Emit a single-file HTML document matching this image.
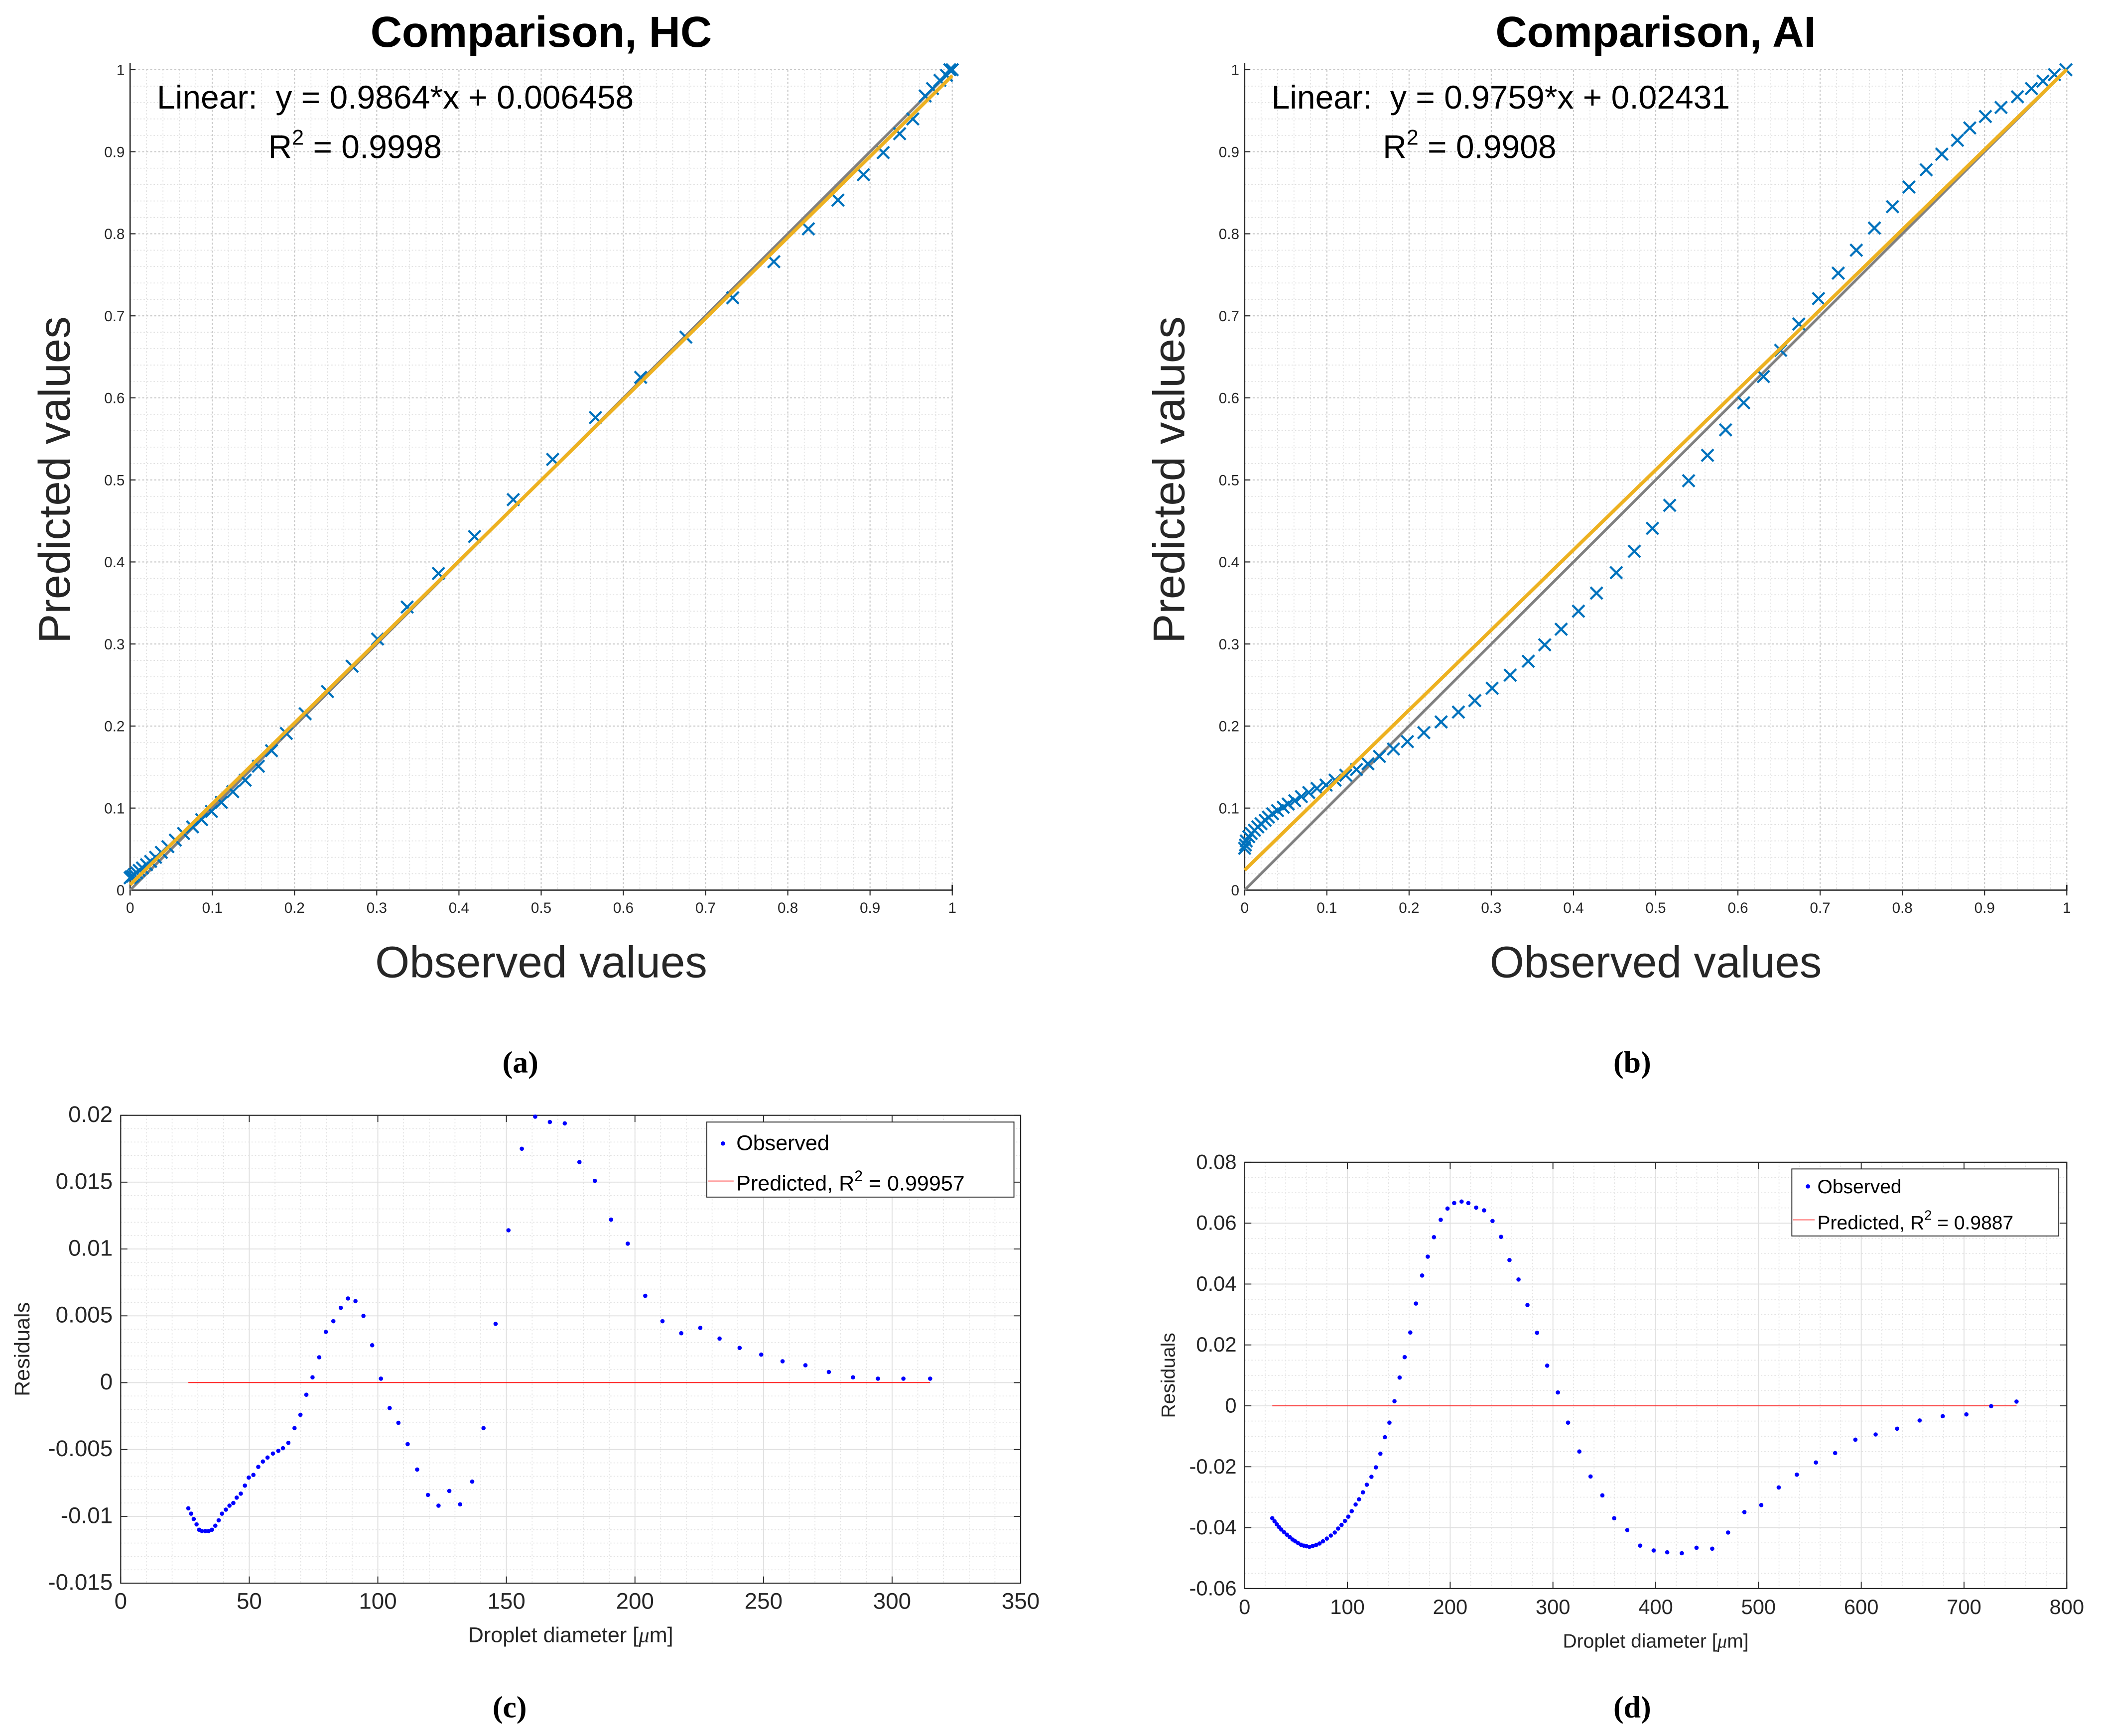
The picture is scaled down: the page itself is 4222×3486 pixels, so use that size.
<!DOCTYPE html>
<html><head><meta charset="utf-8">
<style>
html,body{margin:0;padding:0;background:#fff;}
svg{display:block;font-family:"Liberation Sans",sans-serif;}
</style></head>
<body>
<svg id="fig" width="4222" height="3486" viewBox="0 0 1568 1295" preserveAspectRatio="none" xmlns="http://www.w3.org/2000/svg">
<rect x="0" y="0" width="1568" height="1295" fill="#fff"/>
</svg>
<script>
// ---------- Data ----------
const hcX=[0,0.001,0.003,0.005,0.008,0.011,0.015,0.020,0.025,0.031,0.038,0.046,0.055,0.065,0.076,0.087,0.099,0.111,0.125,0.140,0.156,0.172,0.190,0.213,0.240,0.270,0.301,0.337,0.375,0.419,0.466,0.514,0.566,0.621,0.676,0.733,0.783,0.825,0.861,0.892,0.916,0.936,0.952,0.967,0.976,0.985,0.993,0.997,1.0];
const hcY=[0.015,0.016,0.017,0.019,0.021,0.024,0.027,0.031,0.035,0.040,0.046,0.053,0.061,0.069,0.077,0.086,0.096,0.107,0.120,0.134,0.151,0.170,0.191,0.215,0.242,0.273,0.306,0.345,0.386,0.431,0.476,0.525,0.576,0.625,0.674,0.722,0.766,0.806,0.841,0.872,0.899,0.922,0.940,0.968,0.977,0.987,0.993,1.0,1.0];
const hcFit=[0.9864,0.006458];
const aiX=[0.999,0.985,0.971,0.957,0.940,0.920,0.901,0.882,0.867,0.848,0.829,0.808,0.788,0.766,0.744,0.722,0.698,0.674,0.652,0.631,0.607,0.585,0.563,0.540,0.517,0.496,0.474,0.452,0.428,0.406,0.385,0.365,0.345,0.323,0.301,0.280,0.260,0.239,0.218,0.198,0.181,0.164,0.150,0.136,0.123,0.110,0.099,0.088,0.078,0.069,0.061,0.053,0.047,0.040,0.034,0.029,0.025,0.020,0.016,0.012,0.008,0.005,0.002,0.001,0];
const aiY=[1.0,0.994,0.986,0.977,0.967,0.954,0.943,0.929,0.914,0.897,0.878,0.857,0.833,0.807,0.780,0.752,0.721,0.690,0.658,0.626,0.594,0.561,0.530,0.499,0.469,0.441,0.413,0.387,0.362,0.340,0.318,0.299,0.279,0.262,0.246,0.231,0.217,0.205,0.192,0.181,0.172,0.163,0.154,0.147,0.140,0.134,0.128,0.124,0.119,0.114,0.109,0.105,0.101,0.097,0.093,0.089,0.085,0.081,0.077,0.073,0.069,0.065,0.060,0.055,0.051];
const aiFit=[0.9759,0.02431];
const cD=[26.3,27.4,28.4,29.5,30.5,31.6,32.9,34.2,35.5,36.8,38.1,39.4,40.9,42.3,43.8,45.1,46.7,48.3,49.8,51.6,53.5,55.3,57.1,59.2,61.3,63.1,65.2,67.6,69.9,72.2,74.6,77.2,79.8,82.7,85.6,88.4,91.3,94.4,97.8,101.2,104.6,108.0,111.6,115.3,119.5,123.6,127.8,132.0,136.7,141.1,145.8,150.8,156.0,161.2,166.9,172.7,178.4,184.4,190.7,197.2,204.0,210.7,218.0,225.4,232.9,240.7,249.1,257.4,266.3,275.4,284.8,294.5,304.4,314.8];
const cR=[-0.0094,-0.0098,-0.0102,-0.0106,-0.0110,-0.0111,-0.0111,-0.0111,-0.0110,-0.0107,-0.0103,-0.0098,-0.0095,-0.0092,-0.0090,-0.0086,-0.0083,-0.0077,-0.0071,-0.0069,-0.0063,-0.0059,-0.0056,-0.0053,-0.0051,-0.0049,-0.0045,-0.0034,-0.0024,-0.0009,0.0004,0.0019,0.0038,0.0046,0.0056,0.0063,0.0061,0.0050,0.0028,0.0003,-0.0019,-0.0030,-0.0046,-0.0065,-0.0084,-0.0092,-0.0081,-0.0091,-0.0074,-0.0034,0.0044,0.0114,0.0175,0.0199,0.0195,0.0194,0.0165,0.0151,0.0122,0.0104,0.0065,0.0046,0.0037,0.0041,0.0033,0.0026,0.0021,0.0016,0.0013,0.0008,0.0004,0.0003,0.0003,0.0003];
const dD=[26.9,29.1,31.3,33.4,35.6,38.4,41.1,43.9,46.6,49.3,52.1,54.8,57.6,60.3,63.0,66.3,69.6,72.9,76.2,80.0,83.9,87.7,91.0,94.3,97.6,100.9,104.2,108.0,111.3,115.1,118.9,123.4,127.7,132.1,136.5,140.9,145.8,150.8,155.7,161.2,166.7,172.7,178.2,184.2,190.8,197.4,203.9,211.1,217.7,225.3,233.0,241.2,249.5,257.7,266.5,275.2,284.5,294.4,304.8,314.7,325.7,336.6,348.1,359.6,372.3,384.9,398.0,411.2,425.4,439.7,455.0,470.4,486.3,502.7,519.7,537.3,555.9,574.6,594.3,614.0,634.9,656.8,679.3,702.3,726.4,751.1];
const dR=[-0.0369,-0.0379,-0.0389,-0.0398,-0.0406,-0.0415,-0.0423,-0.0431,-0.0439,-0.0445,-0.0451,-0.0456,-0.0459,-0.0461,-0.0463,-0.0460,-0.0457,-0.0452,-0.0445,-0.0436,-0.0426,-0.0416,-0.0403,-0.0391,-0.0378,-0.0364,-0.0346,-0.0324,-0.0307,-0.0284,-0.0259,-0.0233,-0.0202,-0.0157,-0.0103,-0.0055,0.0015,0.0093,0.0160,0.0241,0.0336,0.0428,0.0490,0.0554,0.0611,0.0648,0.0666,0.0671,0.0666,0.0651,0.0642,0.0607,0.0555,0.0479,0.0415,0.0331,0.0240,0.0132,0.0044,-0.0055,-0.0150,-0.0232,-0.0294,-0.0369,-0.0408,-0.0459,-0.0475,-0.0481,-0.0484,-0.0466,-0.0469,-0.0416,-0.0349,-0.0326,-0.0268,-0.0226,-0.0186,-0.0155,-0.0111,-0.0094,-0.0075,-0.0048,-0.0034,-0.0028,-0.0001,0.0014];
const abTicks=["0","0.1","0.2","0.3","0.4","0.5","0.6","0.7","0.8","0.9","1"];
const cXTicks=["0","50","100","150","200","250","300","350"];
const cYTicks=["-0.015","-0.01","-0.005","0","0.005","0.01","0.015","0.02"];
const dXTicks=["0","100","200","300","400","500","600","700","800"];
const dYTicks=["-0.06","-0.04","-0.02","0","0.02","0.04","0.06","0.08"];

// ---------- helpers ----------
const NS="http://www.w3.org/2000/svg";
const fig=document.getElementById('fig');
function mk(tag,attrs,parent,text){const e=document.createElementNS(NS,tag);for(const k in attrs)e.setAttribute(k,attrs[k]);if(text!==undefined)e.textContent=text;(parent||fig).appendChild(e);return e;}
function scale(d0,d1,r0,r1){return v=>r0+(v-d0)/(d1-d0)*(r1-r0);}

// ---------- scatter comparison panels ----------
function comparison(cfg){
  const g=mk('g',{});
  
  
  const L=cfg.L,R=cfg.R,T=52,B=664;
  const sx=scale(0,1,L,R), sy=scale(0,1,B,T);
  for(let i=0;i<=50;i++){const v=i/50;
    const gx=mk('line',{x1:sx(v),x2:sx(v),y1:T,y2:B,stroke:i%5===0?'#c8c8c8':'#dedede','stroke-width':i%5===0?0.8:0.6,'stroke-dasharray':i%5===0?'1.5,1.5':'1,1.5'},g);
    
    const gy=mk('line',{x1:L,x2:R,y1:sy(v),y2:sy(v),stroke:i%5===0?'#c8c8c8':'#dedede','stroke-width':i%5===0?0.8:0.6,'stroke-dasharray':i%5===0?'1.5,1.5':'1,1.5'},g);
    
  }
  const ax=mk('path',{d:`M${L},${T-5} L${L},${B} L${R},${B} L${R},${B-4} M${L},${B} L${L},${B+4}`,stroke:'#262626','stroke-width':1,fill:'none'},g);
  
  abTicks.forEach((t,i)=>{const v=i/10;
    mk('line',{x1:sx(v),x2:sx(v),y1:B,y2:B+4,stroke:'#262626','stroke-width':0.8},g);
    mk('line',{x1:L,x2:L+4,y1:sy(v),y2:sy(v),stroke:'#262626','stroke-width':0.8},g);
    const xt=mk('text',{x:sx(v),y:B+17,'font-size':11,'text-anchor':'middle',fill:'#262626'},g,t);
    
    const yt=mk('text',{x:L-4,y:sy(v)+4,'font-size':11,'text-anchor':'end',fill:'#262626'},g,t);
    
  });
  const ref=mk('line',{x1:sx(0),y1:sy(0),x2:sx(1),y2:sy(1),stroke:'#808080','stroke-width':2},g);
  
  cfg.xs.forEach((x,i)=>{const px=sx(x),py=sy(cfg.ys[i]),s=4.5;
    const m=mk('path',{d:`M${px-s},${py-s}L${px+s},${py+s}M${px-s},${py+s}L${px+s},${py-s}`,stroke:'#0072BD','stroke-width':1.6,fill:'none'},g);
    
  });
  const f=mk('line',{x1:sx(0),y1:sy(cfg.fit[1]),x2:sx(1),y2:sy(cfg.fit[0]+cfg.fit[1]),stroke:'#EDB120','stroke-width':2.6},g);
  
  const ti=mk('text',{x:(L+R)/2,y:35,'font-size':32.5,'font-weight':'bold','text-anchor':'middle',fill:'#000'},g,cfg.title);
  
  const eq=mk('text',{x:L+20,y:81,'font-size':24.5,fill:'#000'},g,cfg.eq);
  
  const r2=mk('text',{x:L+103,y:118,'font-size':24.5,fill:'#000'},g);
  
  mk('tspan',{},r2,'R');mk('tspan',{dy:-10,'font-size':16},r2,'2');mk('tspan',{dy:10},r2,' = '+cfg.r2);
  const yl=mk('text',{x:0,y:0,'font-size':33,'text-anchor':'middle',fill:'#262626',transform:`translate(${L-45},358) rotate(-90)`},g,'Predicted values');
  
  const xl=mk('text',{x:(L+R)/2,y:729,'font-size':33,'text-anchor':'middle',fill:'#262626'},g,'Observed values');
  
}
comparison({name:'panel-a-hc',L:97,R:710,xs:hcX,ys:hcY,fit:hcFit,title:'Comparison, HC',eq:'Linear:\u00a0 y = 0.9864*x + 0.006458',r2:'0.9998'});
comparison({name:'panel-b-ai',L:928,R:1541,xs:aiX,ys:aiY,fit:aiFit,title:'Comparison, AI',eq:'Linear:\u00a0 y = 0.9759*x + 0.02431',r2:'0.9908'});

// ---------- residual panels ----------
function residual(cfg){
  const g=mk('g',{});
  
  
  const {L,R,T,B}=cfg;
  const sx=scale(cfg.x0,cfg.x1,L,R), sy=scale(cfg.y0,cfg.y1,B,T);
  for(let v=cfg.x0;v<=cfg.x1+1e-9;v+=cfg.xMinor){
    const l=mk('line',{x1:sx(v),x2:sx(v),y1:T,y2:B,stroke:'#e2e2e2','stroke-width':0.6,'stroke-dasharray':'1,1.5'},g);
    }
  for(let v=cfg.y0;v<=cfg.y1+1e-9;v+=cfg.yMinor){
    const l=mk('line',{x1:L,x2:R,y1:sy(v),y2:sy(v),stroke:'#e2e2e2','stroke-width':0.6,'stroke-dasharray':'1,1.5'},g);
    }
  const nx=cfg.xt.length-1, ny=cfg.yt.length-1;
  cfg.xt.forEach((t,i)=>{const v=cfg.x0+(cfg.x1-cfg.x0)*i/nx;
    mk('line',{x1:sx(v),x2:sx(v),y1:T,y2:B,stroke:'#e0e0e0','stroke-width':0.7},g);
    mk('line',{x1:sx(v),x2:sx(v),y1:B,y2:B-5,stroke:'#262626','stroke-width':0.7},g);
    mk('line',{x1:sx(v),x2:sx(v),y1:T,y2:T+5,stroke:'#262626','stroke-width':0.7},g);
    const tx=mk('text',{x:sx(v),y:B+19,'font-size':cfg.fs+1,'text-anchor':'middle',fill:'#262626'},g,t);
    });
  cfg.yt.forEach((t,i)=>{const v=cfg.y0+(cfg.y1-cfg.y0)*i/ny;
    mk('line',{x1:L,x2:R,y1:sy(v),y2:sy(v),stroke:'#e0e0e0','stroke-width':0.7},g);
    mk('line',{x1:L,x2:L+5,y1:sy(v),y2:sy(v),stroke:'#262626','stroke-width':0.7},g);
    mk('line',{x1:R,x2:R-5,y1:sy(v),y2:sy(v),stroke:'#262626','stroke-width':0.7},g);
    const ty=mk('text',{x:L-6,y:sy(v)+5,'font-size':cfg.fs+1,'text-anchor':'end',fill:'#262626'},g,t);
    });
  const box=mk('rect',{x:L,y:T,width:R-L,height:B-T,fill:'none',stroke:'#262626','stroke-width':0.8},g);
  
  const xs=cfg.d, ys=cfg.r;
  const pl=mk('line',{x1:sx(xs[0]),x2:sx(xs[xs.length-1]),y1:sy(0),y2:sy(0),stroke:'#ff0000','stroke-width':0.6},g);
  
  xs.forEach((x,i)=>{const c=mk('circle',{cx:sx(x),cy:sy(ys[i]),r:1.6,fill:'#0000ff'},g);
    });
  const lg=cfg.lg;
  const lgG=mk('g',{},g);
  
  mk('rect',{x:lg.x,y:lg.y,width:lg.w,height:lg.h,fill:'#fff',stroke:'#262626','stroke-width':0.7},lgG);
  const e1=mk('g',{},lgG);
  
  mk('circle',{cx:lg.x+12,cy:lg.b1-5,r:1.6,fill:'#0000ff'},e1);
  mk('text',{x:lg.tx,y:lg.b1,'font-size':lg.fs,fill:'#000'},e1,'Observed');
  const e2=mk('g',{},lgG);
  
  mk('line',{x1:lg.x+1,x2:lg.tx-2,y1:lg.b2-7,y2:lg.b2-7,stroke:'#ff0000','stroke-width':0.6},e2);
  const t2=mk('text',{x:lg.tx,y:lg.b2,'font-size':lg.fs,fill:'#000'},e2);
  mk('tspan',{},t2,'Predicted, R');mk('tspan',{dy:-7,'font-size':lg.fs*0.7},t2,'2');mk('tspan',{dy:7},t2,' = '+cfg.r2);
  const yl=mk('text',{x:0,y:0,'font-size':cfg.fs,'text-anchor':'middle',fill:'#262626',transform:`translate(${cfg.ylx},${(T+B)/2}) rotate(-90)`},g,'Residuals');
  
  const xl=mk('text',{x:(L+R)/2,y:B+44,'font-size':cfg.fs,'text-anchor':'middle',fill:'#262626'},g);
  
  mk('tspan',{},xl,'Droplet diameter [');mk('tspan',{'font-style':'italic','font-family':'Liberation Serif,serif'},xl,'μ');mk('tspan',{},xl,'m]');
}
residual({name:'panel-c-residuals',L:90,R:761,T:832,B:1181,x0:0,x1:350,y0:-0.015,y1:0.02,xMinor:10,yMinor:0.001,
  xt:cXTicks,yt:cYTicks,d:cD,r:cR,fs:16,ylx:22,r2:'0.99957',
  lg:{x:527,y:837,w:229,h:56,tx:549,b1:858,b2:888,fs:16}});
residual({name:'panel-d-residuals',L:928,R:1541,T:867,B:1185,x0:0,x1:800,y0:-0.06,y1:0.08,xMinor:20,yMinor:0.005,
  xt:dXTicks,yt:dYTicks,d:dD,r:dR,fs:14.5,ylx:876,r2:'0.9887',
  lg:{x:1336,y:872,w:199,h:50,tx:1355,b1:890,b2:917,fs:14.5}});

[['(a)',388,800,'sub-label-a'],['(b)',1217,800,'sub-label-b'],['(c)',380,1281,'sub-label-c'],['(d)',1217,1281,'sub-label-d']].forEach(s=>{
  const t=mk('text',{x:s[1],y:s[2],'font-size':23,'text-anchor':'middle','font-family':'Liberation Serif,serif','font-weight':'bold',fill:'#000'},fig,s[0]);
  
  
});
</script>
</body></html>
